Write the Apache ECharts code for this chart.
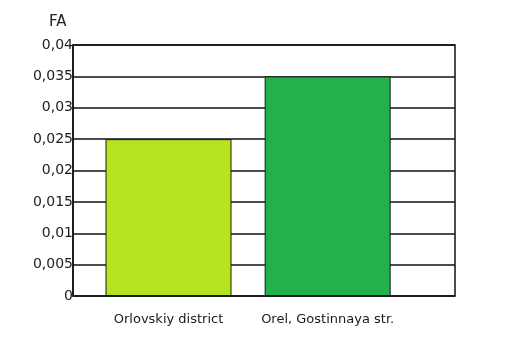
<!DOCTYPE html>
<html>
<head>
<meta charset="utf-8">
<script src="https://cdn.jsdelivr.net/npm/echarts@6/dist/echarts.min.js"></script>
<style>html,body{margin:0;padding:0;background:#fff;}#c{width:510px;height:340px;}</style>
</head>
<body>
<div id="c"></div>
<script>
var categories = ['Orlovskiy district', 'Orel, Gostinnaya str.'];
var values = [0.025, 0.035];
var colors = ['#b5e31f', '#22b14c'];
var yTicks = [0, 0.005, 0.01, 0.015, 0.02, 0.025, 0.03, 0.035, 0.04];

var chart = echarts.init(document.getElementById('c'));
chart.setOption({
  animation: false,
  title: {
    text: 'FA', left: 44, top: 10,
    textStyle: { fontFamily: 'DejaVu Sans', fontWeight: 'normal', fontSize: 15, color: '#222' }
  },
  grid: { left: 73, right: 55, top: 45, bottom: 44, show: true, borderColor: '#111', borderWidth: 1.5 },
  xAxis: {
    type: 'value', min: -0.6, max: 1.8,
    splitLine: { show: false },
    axisLine: { show: false },
    axisTick: { show: false },
    axisLabel: {
      customValues: categories.map(function (c, i) { return i; }),
      formatter: function (v) { return categories[Math.round(v)] || ''; },
      margin: 17, fontFamily: 'DejaVu Sans', fontSize: 13, color: '#1a1a1a'
    }
  },
  yAxis: {
    type: 'value', min: 0, max: 0.04, interval: 0.005,
    axisLine: { show: true, onZero: false, lineStyle: { color: '#111', width: 1.5 } },
    axisTick: { show: false },
    splitLine: { show: true, lineStyle: { color: '#111', width: 1.5 } },
    axisLabel: {
      customValues: yTicks,
      margin: 0, fontFamily: 'DejaVu Sans', fontSize: 14, color: '#222',
      formatter: function (v) { return String(+v.toFixed(3)).replace('.', ','); }
    }
  },
  series: [{
    type: 'bar',
    barWidth: 126,
    z: 3,
    data: values.map(function (v, i) {
      return { value: [i, v], itemStyle: { color: colors[i], borderColor: '#1a1a1a', borderWidth: 1 } };
    })
  }]
});
</script>
</body>
</html>
